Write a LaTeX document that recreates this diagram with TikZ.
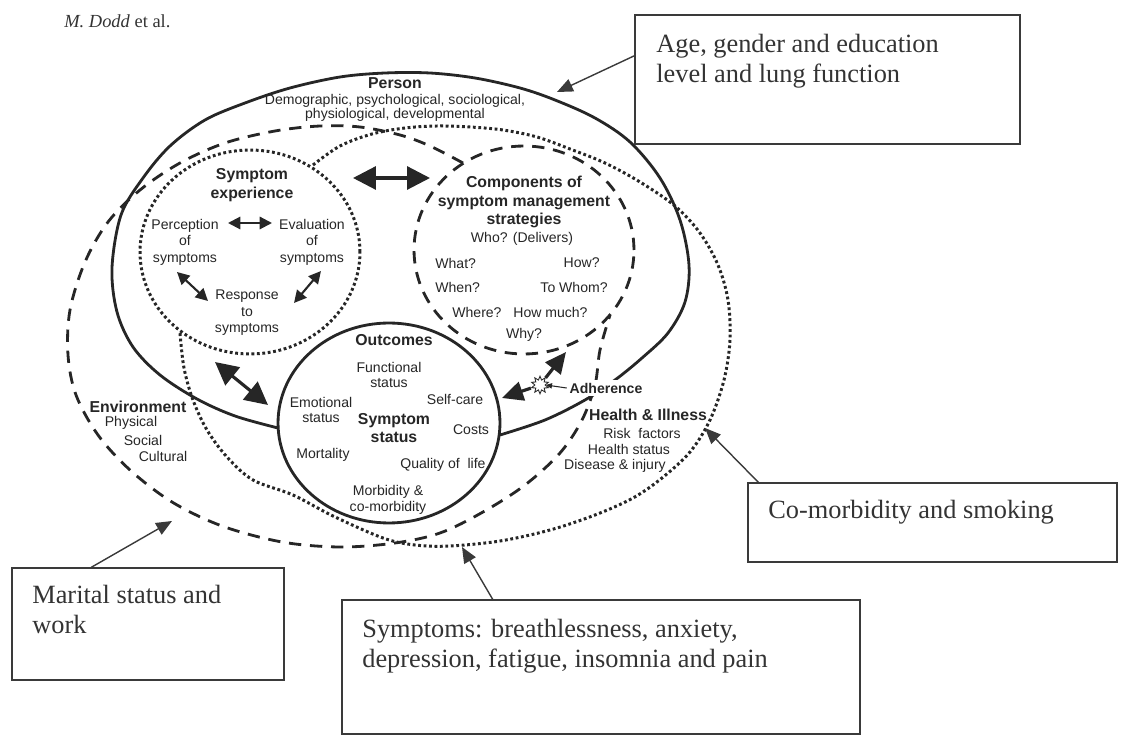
\documentclass[tikz,border=0pt]{standalone}
\usepackage{fontspec}
\setmainfont{Liberation Serif}
\setsansfont{Liberation Sans}
\usetikzlibrary{arrows.meta,shapes.geometric}

\definecolor{ink}{HTML}{262626}
\definecolor{boxline}{HTML}{3A3A3A}
\definecolor{boxink}{HTML}{333333}

\tikzset{
  lbl/.style={font=\sffamily\fontsize{8}{9.4}\selectfont, text=ink, align=center, inner sep=0pt},
  hd/.style={font=\sffamily\bfseries\fontsize{9}{10.6}\selectfont},
  note/.style={draw=boxline, line width=0.8pt, inner sep=0pt},
  notetext/.style={font=\rmfamily\fontsize{15}{17}\selectfont, text=boxink, align=left, anchor=north west, inner sep=0pt},
  pointer/.style={draw=boxline, line width=0.8pt, -{Triangle[length=9pt,width=7.5pt]}},
  bigdbl/.style={draw=ink, line width=1.8pt, {Triangle[length=13pt,width=13pt]}-{Triangle[length=13pt,width=13pt]}},
  smalldbl/.style={draw=ink, line width=1.2pt, {Triangle[length=7pt,width=7pt]}-{Triangle[length=7pt,width=7pt]}},
  bigone/.style={draw=ink, line width=1.8pt, -{Triangle[length=12pt,width=11pt]}},
  thinone/.style={draw=ink, line width=0.6pt, -{Triangle[length=3.5pt,width=3pt]}},
  solidring/.style={draw=ink, line width=1.6pt},
  dashring/.style={draw=ink, line width=1.6pt, dash pattern=on 7pt off 5pt},
  dotring/.style={draw=ink, line width=1.7pt, dash pattern=on 1.6pt off 1.5pt},
}

\begin{document}
\begin{tikzpicture}[x=0.02cm,y=-0.02cm]
\useasboundingbox (0,0) rectangle (1137,736);

\node (hdr)[font=\rmfamily\fontsize{10.5}{12}\selectfont, text=boxink, anchor=base west, inner sep=0pt] at (64,28) {\textit{M. Dodd} et al.};

% rings: environment, health and illness, person
\draw[dashring] plot[smooth, tension=0.55] coordinates {(463,163) (430,146) (400,135) (360,127) (320,126) (275,131) (225,143) (180,163) (140,190) (108,222) (85,262) (70,310) (68,355) (76,395) (98,435) (130,470) (172,502) (222,526) (282,542) (340,547) (395,543) (440,533) (483,512) (525,485) (560,453) (582,420) (595,385) (600,350) (610,315)};
\draw[dotring] plot[smooth, tension=0.55] coordinates {(313,165) (340,146) (372,134) (405,128) (437,126) (470,127) (503,130) (537,137) (570,149) (605,163) (640,182) (675,206) (700,233) (718,265) (728,300) (730,340) (724,380) (710,420) (690,452) (662,478) (633,498) (595,515) (550,530) (500,541) (450,546) (415,545) (383,538) (333,516) (293,495) (253,480) (227,457) (207,430) (193,400) (184,368) (180,333)};
\draw[solidring] plot[smooth, tension=0.55] coordinates {(278,428) (235,416) (197,399) (160,375) (133,347) (117,312) (112,268) (121,215) (143,178) (170,146) (205,120) (245,103) (290,88) (340,77) (385,73) (430,73) (475,78) (520,88) (555,100) (595,118) (630,142) (660,178) (680,220) (689,265) (685,302) (668,333) (642,358) (615,380) (585,400) (545,420) (500,435)};

% inner circles
\draw[dotring] (250,252) ellipse [x radius=2.2cm, y radius=2.04cm];
\draw[dashring] (524,250) ellipse [x radius=2.2cm, y radius=2.08cm];
\draw[solidring, fill=white] (389,423) ellipse [x radius=2.22cm, y radius=2cm];

\begin{scope}[every node/.style={lbl}]
    \node (person)[hd] at (395,83) {Person};
    \node (persub)[font=\sffamily\fontsize{8}{7.8}\selectfont] at (395,108) {Demographic, psychological, sociological,\\physiological, developmental};

    \node (symexp)[hd] at (252,185) {Symptom\\experience};
    \node (perc) at (185,242) {Perception\\of\\symptoms};
    \node (eval) at (312,242) {Evaluation\\of\\symptoms};
    \node (resp) at (247,313) {Response\\to\\symptoms};

    \node (comp)[hd, font=\sffamily\bfseries\fontsize{9}{10.4}\selectfont] at (524,202) {Components of\\symptom management\\strategies};
    \node (who) at (522,239) {Who? (Delivers)};
    \node (what)[anchor=west] at (435,263) {What?};
    \node (how)[anchor=east] at (600,263) {How?};
    \node (when)[anchor=west] at (435,287) {When?};
    \node (towhom)[anchor=east] at (608,287) {To Whom?};
    \node (where)[anchor=west] at (452,312) {Where?};
    \node (howmuch)[anchor=west] at (513,312) {How much?};
    \node (why) at (524,335) {Why?};

    \node (outc)[hd] at (394,340) {Outcomes};
    \node (func)[font=\sffamily\fontsize{8}{9}\selectfont] at (389,375) {Functional\\status};
    \node (emot)[font=\sffamily\fontsize{8}{9}\selectfont] at (321,410) {Emotional\\status};
    \node (symstat)[hd] at (394,428) {Symptom\\status};
    \node (selfcare) at (455,399) {Self-care};
    \node (costs) at (471,430) {Costs};
    \node (mort) at (323,455) {Mortality};
    \node (qol) at (443,465) {Quality of~ life};
    \node (morb)[font=\sffamily\fontsize{8}{9}\selectfont] at (388,500) {Morbidity \&\\co-morbidity};

    \node (env)[hd] at (138,407) {Environment};
    \node (phys) at (131,423) {Physical};
    \node (soc) at (143,440) {Social};
    \node (cult) at (163,456) {Cultural};

    \node (health)[hd] at (648,415) {Health \& Illness};
    \node (risk) at (642,433) {Risk~ factors};
    \node (hstat) at (629,449) {Health status};
    \node (dis) at (615,466) {Disease \& injury};

    \node (adh)[font=\sffamily\bfseries\fontsize{8}{9}\selectfont, fill=white, inner sep=1.5pt] at (606,388) {Adherence};
    \node (burst)[star, star points=10, star point ratio=1.7, draw=ink, fill=white, line width=0.5pt, minimum size=10pt] at (540,385) {};
\end{scope}

% arrow ends
\coordinate (sea) at (353,178);
\coordinate (cma) at (430,178);
\coordinate (seb) at (215,362);
\coordinate (oca) at (268,405);
\coordinate (cmb) at (566,352);
\coordinate (ocb) at (502,398);
\coordinate (pe1) at (228,223);
\coordinate (ev1) at (272,223);
\coordinate (pe2) at (177,272);
\coordinate (re1) at (208,301);
\coordinate (ev2) at (321,271);
\coordinate (re2) at (294,303);

\begin{scope}[every edge/.style={bigdbl}]
    \path (sea) edge (cma);
    \path (seb) edge (oca);
\end{scope}
\begin{scope}[every edge/.style={smalldbl}]
    \path (pe1) edge (ev1);
    \path (pe2) edge (re1);
    \path (ev2) edge (re2);
\end{scope}
\path (burst) edge[bigone] (cmb);
\path (burst) edge[bigone] (ocb);
\path (adh.west) edge[thinone] (burst.east);

% callout boxes
\begin{scope}[every node/.style={note}]
    \node (agebox)[minimum width=7.7cm, minimum height=2.58cm] at (827.5,79.5) {};
    \node (comorbbox)[minimum width=7.38cm, minimum height=1.58cm] at (932.5,522.5) {};
    \node (maritalbox)[minimum width=5.44cm, minimum height=2.24cm] at (148,624) {};
    \node (sympbox)[minimum width=10.36cm, minimum height=2.68cm] at (601,667) {};
\end{scope}

\node (agetxt)[notetext] at (656,34) {Age, gender and education\\level and lung function};
\node (comorbtxt)[notetext] at (768,500) {Co-morbidity and smoking};
\node (maritaltxt)[notetext] at (32,585) {Marital status and\\work};
\node (symptxt)[notetext] at (362,619) {Symptoms: breathlessness, anxiety,\\depression, fatigue, insomnia and pain};

\coordinate (persontip) at (557,92);
\coordinate (healthtip) at (705,428);
\coordinate (envtip) at (172,521);
\coordinate (symptip) at (462,547);

\begin{scope}[every edge/.style={pointer}]
    \path (agebox.173) edge (persontip);
    \path (comorbbox.167) edge (healthtip);
    \path (maritalbox.135) edge (envtip);
    \path (sympbox.148) edge (symptip);
\end{scope}
\end{tikzpicture}
\end{document}
